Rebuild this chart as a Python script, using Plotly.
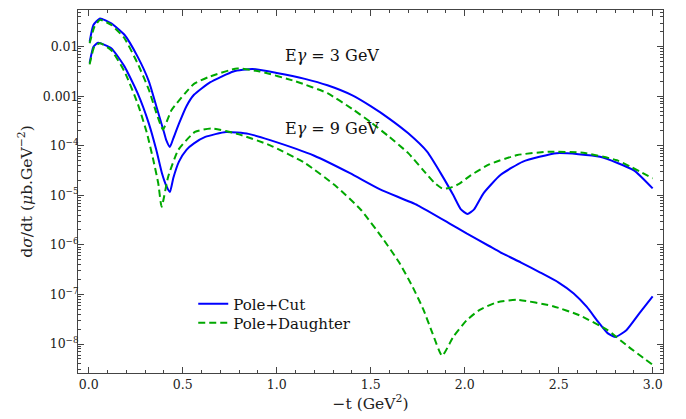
import plotly.graph_objects as go

# ---- data ----
x_cut3 = [0.005, 0.025, 0.06, 0.12, 0.19, 0.26, 0.32, 0.36, 0.40, 0.412, 0.432, 0.45, 0.48, 0.52, 0.56,
          0.645, 0.77, 0.87, 1.0, 1.15, 1.27, 1.4, 1.5, 1.6, 1.7, 1.8, 1.88, 1.94, 1.98, 2.015, 2.05,
          2.10, 2.19, 2.31, 2.49, 2.72, 2.90, 3.0]
y_cut3 = [1.26e-2, 2.75e-2, 3.72e-2, 2.95e-2, 1.74e-2, 6.3e-3, 2.0e-3, 6.2e-4, 1.9e-4, 1.32e-4, 9.5e-5,
          1.41e-4, 2.8e-4, 6.3e-4, 1.07e-3, 1.9e-3, 3.16e-3, 3.55e-3, 2.95e-3, 2.24e-3, 1.66e-3,
          1.05e-3, 6.3e-4, 3.5e-4, 1.78e-4, 7.6e-5, 2.5e-5, 1.0e-5, 5.2e-6, 4.2e-6, 5.2e-6, 1.1e-5,
          2.57e-5, 4.8e-5, 7.1e-5, 6.0e-5, 3.2e-5, 1.38e-5]

x_dau3 = [0.005, 0.03, 0.06, 0.12, 0.19, 0.26, 0.32, 0.36, 0.395, 0.44, 0.51, 0.56, 0.645, 0.79, 0.91,
          1.1, 1.27, 1.4, 1.5, 1.6, 1.7, 1.78, 1.84, 1.88, 1.92, 1.97, 2.03, 2.13, 2.28, 2.45, 2.63,
          2.81, 3.0]
y_dau3 = [1.17e-2, 2.5e-2, 3.47e-2, 2.75e-2, 1.48e-2, 4.6e-3, 1.35e-3, 4.6e-4, 2.14e-4, 5.2e-4, 1.12e-3,
          1.78e-3, 2.5e-3, 3.63e-3, 3.16e-3, 2.0e-3, 1.15e-3, 5.6e-4, 3.0e-4, 1.5e-4, 7.1e-5, 3.2e-5,
          1.78e-5, 1.38e-5, 1.41e-5, 1.7e-5, 2.5e-5, 4.2e-5, 6.5e-5, 7.6e-5, 7.2e-5, 5.1e-5, 2.2e-5]

x_cut9 = [0.005, 0.025, 0.05, 0.12, 0.19, 0.26, 0.32, 0.36, 0.39, 0.412, 0.432, 0.45, 0.48, 0.52, 0.56,
          0.62, 0.73, 0.85, 0.965, 1.2, 1.39, 1.55, 1.75, 1.92, 2.01, 2.13, 2.19, 2.30, 2.40, 2.50, 2.58,
          2.65, 2.71, 2.76, 2.80, 2.86, 2.93, 3.0]
y_cut9 = [4.7e-3, 1.0e-2, 1.2e-2, 9.3e-3, 4.0e-3, 1.15e-3, 2.8e-4, 8.1e-5, 2.75e-5, 1.58e-5, 1.17e-5,
          2.24e-5, 4.8e-5, 8.3e-5, 1.12e-4, 1.51e-4, 1.9e-4, 1.74e-4, 1.3e-4, 6.3e-5, 2.8e-5, 1.32e-5,
          6.3e-6, 2.7e-6, 1.7e-6, 9.5e-7, 7.1e-7, 4.4e-7, 2.8e-7, 1.74e-7, 1.05e-7, 5.6e-8, 2.8e-8,
          1.66e-8, 1.38e-8, 1.9e-8, 4.2e-8, 9.1e-8]

x_dau9 = [0.005, 0.03, 0.06, 0.12, 0.19, 0.26, 0.31, 0.344, 0.37, 0.388, 0.423, 0.477, 0.565, 0.654,
          0.80, 0.965, 1.15, 1.32, 1.45, 1.567, 1.65, 1.72, 1.78, 1.83, 1.88, 1.94, 2.01, 2.08, 2.17,
          2.28, 2.47, 2.61, 2.76, 2.87, 3.0]
y_dau9 = [4.4e-3, 1.0e-2, 1.17e-2, 8.5e-3, 3.16e-3, 7.2e-4, 1.78e-4, 5.1e-5, 1.74e-5, 5.9e-6, 2.4e-5,
          8.3e-5, 1.9e-4, 2.24e-4, 1.7e-4, 1.02e-4, 4.5e-5, 1.48e-5, 5.0e-6, 1.3e-6, 4.5e-7, 1.5e-7,
          5.0e-8, 1.6e-8, 5.8e-9, 1.41e-8, 3.0e-8, 4.9e-8, 6.9e-8, 7.8e-8, 5.8e-8, 3.8e-8, 1.9e-8,
          8.9e-9, 3.8e-9]

series_names = ["Pole+Cut", "Pole+Daughter"]
energy_labels = ["E<i>γ</i> = 3 GeV", "E<i>γ</i> = 9 GeV"]

x_tickvals = [0.0, 0.5, 1.0, 1.5, 2.0, 2.5, 3.0]
x_ticktext = ["0.0", "0.5", "1.0", "1.5", "2.0", "2.5", "3.0"]
y_tickvals = [1e-2, 1e-3, 1e-4, 1e-5, 1e-6, 1e-7, 1e-8]
y_ticktext = ["0.01", "0.001", "10<sup>−4</sup>", "10<sup>−5</sup>", "10<sup>−6</sup>",
              "10<sup>−7</sup>", "10<sup>−8</sup>"]

BLUE = "rgb(0,0,255)"
GREEN = "rgb(0,168,0)"
FONT = "DejaVu Serif"

fig = go.Figure()
solid = dict(color=BLUE, width=2, shape="spline", smoothing=0.5)
dashed = dict(color=GREEN, width=2, dash="7px,4px", shape="spline", smoothing=0.5)

fig.add_trace(go.Scatter(x=x_cut3, y=y_cut3, mode="lines", line=solid, name=series_names[0],
                         legend="legend", showlegend=True))
fig.add_trace(go.Scatter(x=x_dau3, y=y_dau3, mode="lines", line=dashed, name=series_names[1],
                         legend="legend2", showlegend=True))
fig.add_trace(go.Scatter(x=x_cut9, y=y_cut9, mode="lines", line=solid, name=series_names[0],
                         showlegend=False))
fig.add_trace(go.Scatter(x=x_dau9, y=y_dau9, mode="lines", line=dashed, name=series_names[1],
                         showlegend=False))

minor_y = [m * 10.0 ** e for e in range(-9, -1) for m in range(2, 10)]
minor_x = [i / 10 for i in range(0, 31) if i % 5 != 0]

axis_common = dict(showgrid=False, zeroline=False, showline=True, linecolor="#444", linewidth=1,
                   mirror="allticks", ticks="inside", tickcolor="#444", tickwidth=1,
                   automargin=False,
                   tickfont=dict(family=FONT, size=12.5, color="#222"))

fig.update_xaxes(range=[-0.057, 3.055], tickmode="array", tickvals=x_tickvals, ticktext=x_ticktext,
                 ticklen=6,
                 minor=dict(tickmode="array", tickvals=minor_x, ticks="inside", ticklen=3,
                            tickcolor="#444", tickwidth=1),
                 title=dict(text="−t (GeV<sup>2</sup>)", font=dict(family=FONT, size=15.5, color="#222"),
                            standoff=6),
                 **axis_common)
fig.update_yaxes(type="log", range=[-8.585, -1.26], tickmode="array", tickvals=y_tickvals,
                 ticktext=y_ticktext, ticklen=6, ticklabelstandoff=-4,
                 minor=dict(tickmode="array", tickvals=minor_y, ticks="inside", ticklen=3,
                            tickcolor="#444", tickwidth=1),
                 title=dict(text="d<i>σ</i>/dt (<i>μ</i>b.GeV<sup>−2</sup>)",
                            font=dict(family=FONT, size=15.5, color="#222"), standoff=6),
                 **axis_common)

fig.add_annotation(x=1.294, y=-2.17, xref="x", yref="y", text=energy_labels[0], showarrow=False,
                   xanchor="center", yanchor="middle", font=dict(family=FONT, size=16, color="#111"))
fig.add_annotation(x=1.294, y=-3.66, xref="x", yref="y", text=energy_labels[1], showarrow=False,
                   xanchor="center", yanchor="middle", font=dict(family=FONT, size=16, color="#111"))

legend_common = dict(bgcolor="rgba(0,0,0,0)", borderwidth=0, xanchor="left", yanchor="middle",
                     font=dict(family=FONT, size=15, color="#111"), itemwidth=30)
fig.update_layout(
    width=686, height=419,
    margin=dict(l=78, r=23, t=10, b=46),
    paper_bgcolor="white", plot_bgcolor="white",
    legend=dict(x=0.197, y=0.19, **legend_common),
    legend2=dict(x=0.197, y=0.138, **legend_common),
)

fig.write_html("out.html", config={"displayModeBar": False},
               post_script="document.body.style.margin='0';document.body.style.overflow='hidden';")
